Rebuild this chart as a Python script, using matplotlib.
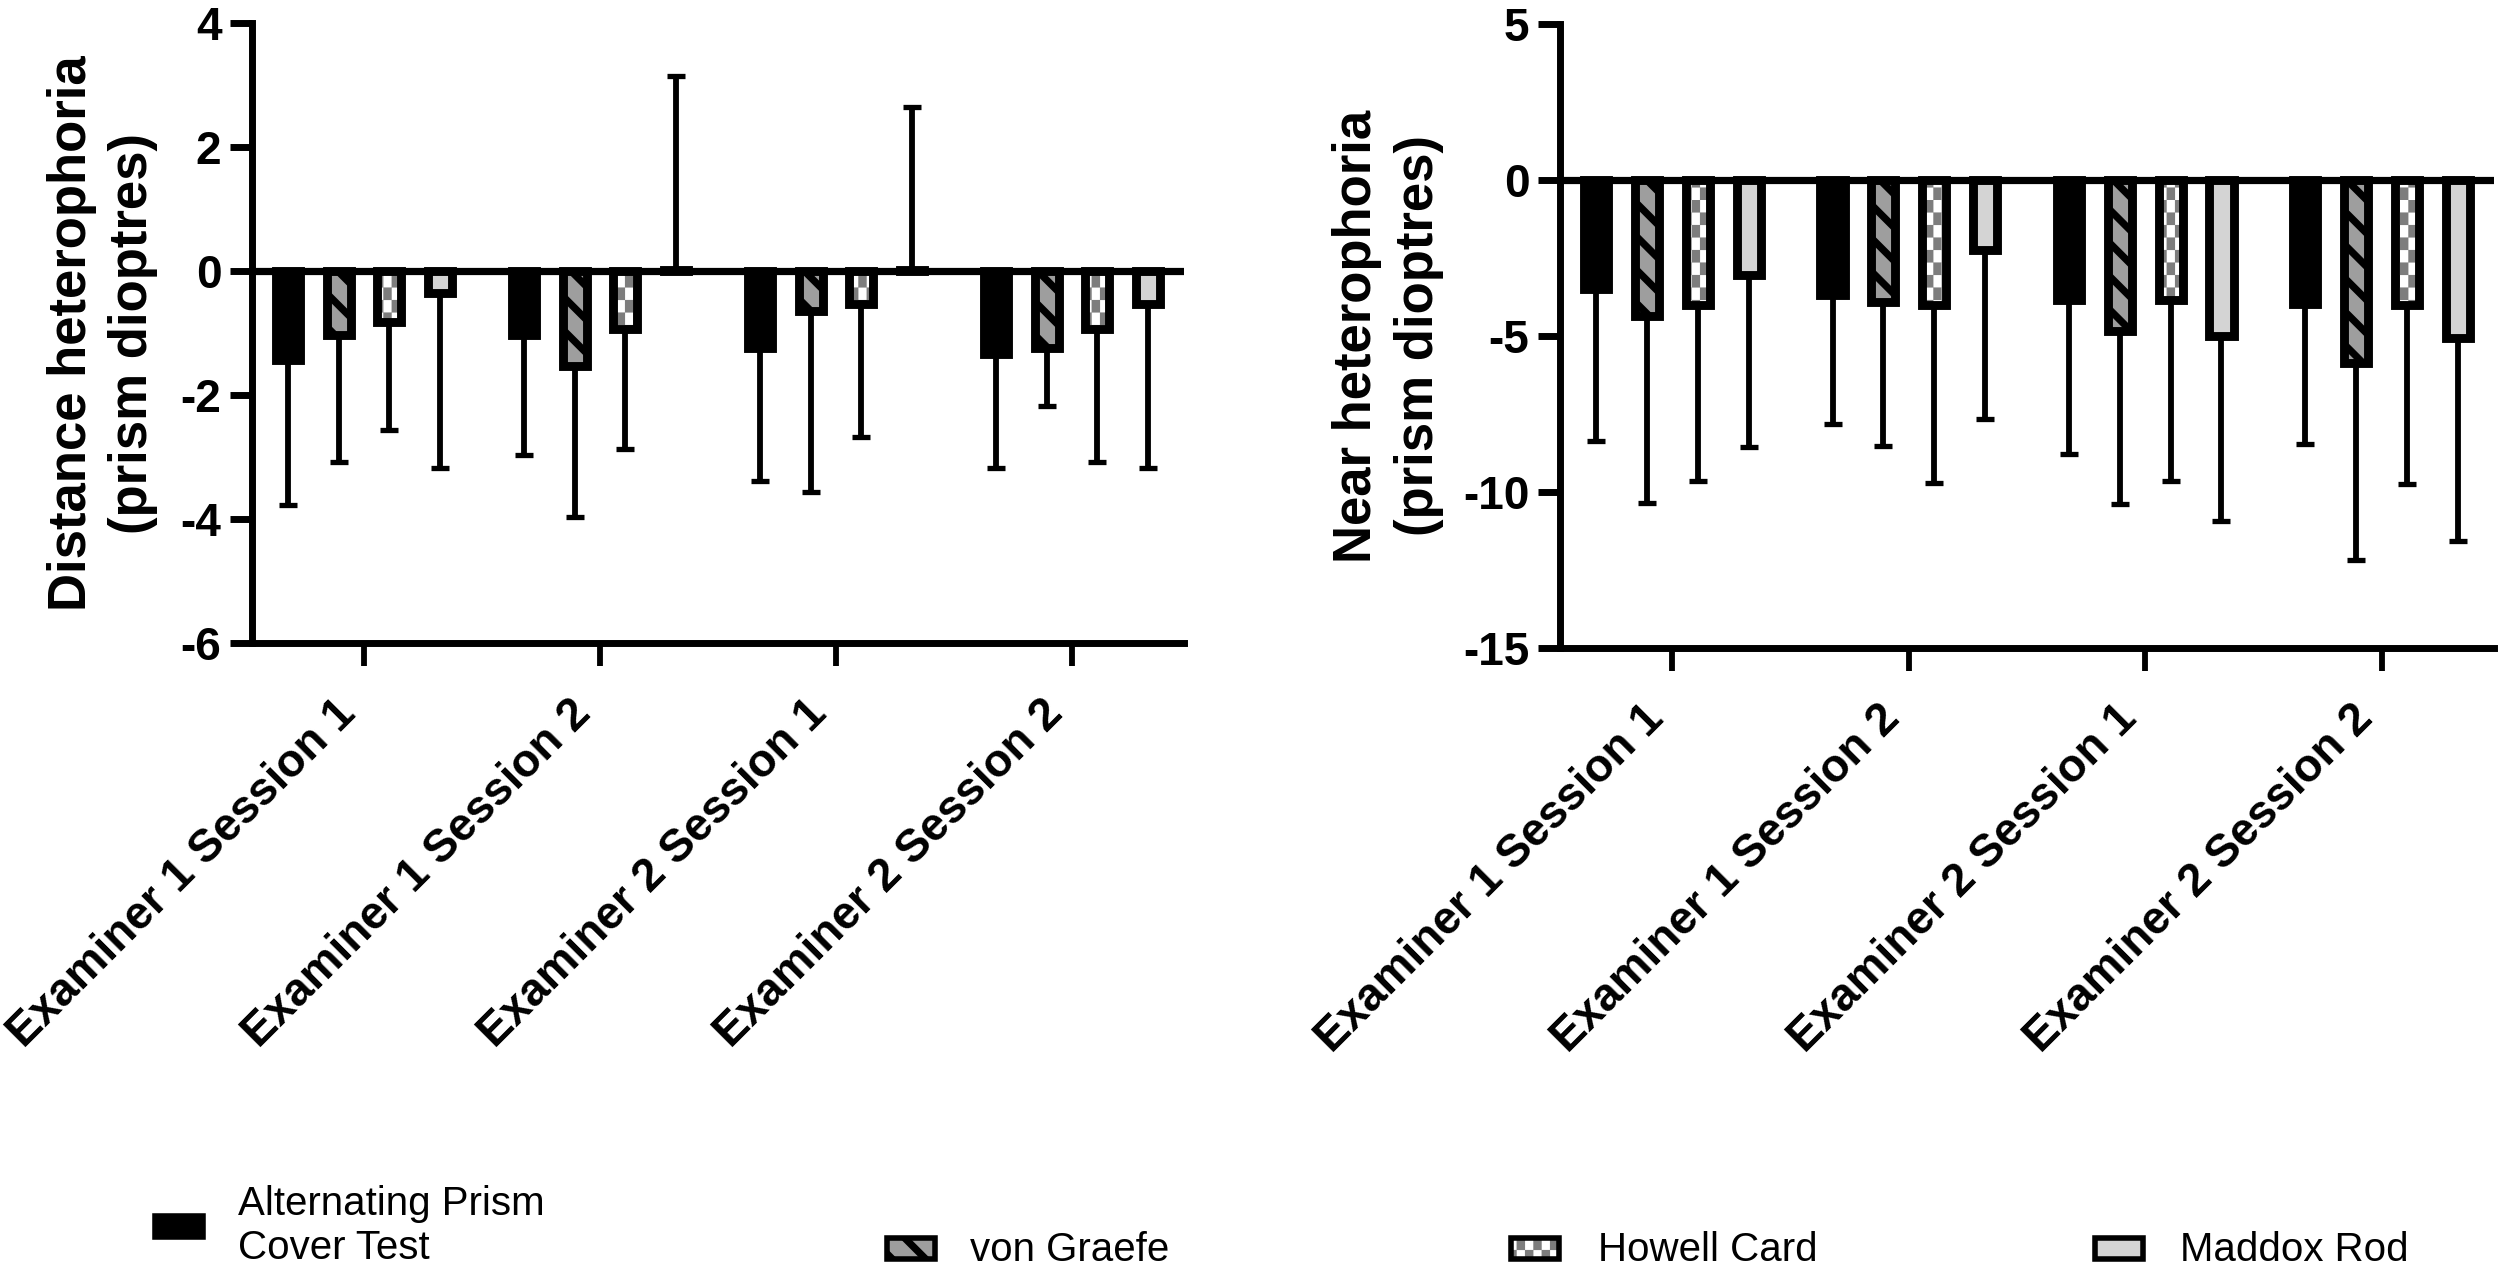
import warnings

import matplotlib

matplotlib.use("Agg")
import matplotlib.hatch as mhatch
import matplotlib.pyplot as plt
import numpy as np
from matplotlib.patches import Rectangle
from matplotlib.path import Path
from matplotlib.transforms import ScaledTranslation

warnings.filterwarnings("ignore", message=".*hatch must consist.*")

# ---- data (mean, SD) per method, one value per examiner/session ----
sessions = [
    "Examiner 1 Session 1",
    "Examiner 1 Session 2",
    "Examiner 2 Session 1",
    "Examiner 2 Session 2",
]
methods = ["Alternating Prism\nCover Test", "von Graefe", "Howell Card", "Maddox Rod"]

distance_apct = [-1.44, -1.04, -1.24, -1.34]
distance_apct_sd = [2.33, 1.93, 2.14, 1.84]
distance_von_graefe = [-1.04, -1.54, -0.64, -1.24]
distance_von_graefe_sd = [2.04, 2.42, 2.93, 0.93]
distance_howell = [-0.83, -0.93, -0.53, -0.93]
distance_howell_sd = [1.74, 1.94, 2.14, 2.15]
distance_maddox = [-0.35, 0.02, 0.02, -0.53]
distance_maddox_sd = [2.83, 3.13, 2.62, 2.65]

near_apct = [-3.50, -3.70, -3.85, -3.96]
near_apct_sd = [4.85, 4.12, 4.94, 4.50]
near_von_graefe = [-4.36, -3.90, -4.85, -5.85]
near_von_graefe_sd = [6.00, 4.64, 5.55, 6.34]
near_howell = [-4.00, -4.00, -3.85, -4.00]
near_howell_sd = [5.64, 5.71, 5.79, 5.73]
near_maddox = [-3.06, -2.25, -4.99, -5.06]
near_maddox_sd = [5.51, 5.40, 5.93, 6.52]

distance_ticks = [-6, -4, -2, 0, 2, 4]
near_ticks = [-15, -10, -5, 0, 5]

# ---- style ----
FONT = "Liberation Sans"
EDGE = 3.2
BAR_WIDTH = 0.102
BAR_STEP = 0.215
GREY_STRIPE = "#9e9e9e"
GREY_CHECK = "#7d7d7d"
GREY_LIGHT = "#d4d4d4"
STRIPES = "\\\\"

plt.rcParams["font.family"] = [FONT, "DejaVu Sans"]
plt.rcParams["axes.unicode_minus"] = False
plt.rcParams["hatch.linewidth"] = 2.6


class CheckerHatch(mhatch.HatchPatternBase):
    """Filled checkerboard of tall cells, selected with the letter 'c'."""

    def __init__(self, hatch, density):
        count = hatch.count("c")
        self.nx = count * 24
        self.ny = count * 16
        self.num_vertices = (self.nx * self.ny // 2) * 5

    def set_vertices_and_codes(self, vertices, codes):
        dx, dy = 1.0 / self.nx, 1.0 / self.ny
        cell = np.array([[0, 0], [dx, 0], [dx, dy], [0, dy], [0, 0]])
        parts = [cell + [i * dx, j * dy]
                 for i in range(self.nx) for j in range(self.ny) if (i + j) % 2 == 0]
        vertices[:] = np.concatenate(parts)
        codes[:] = np.tile([Path.MOVETO, Path.LINETO, Path.LINETO,
                            Path.LINETO, Path.CLOSEPOLY], len(parts))


mhatch._hatch_types.append(CheckerHatch)


def draw_method_bars(ax, index, pos, mean):
    if index == 0:
        return ax.bar(pos, mean, BAR_WIDTH, color="black", edgecolor="black",
                      linewidth=EDGE, zorder=2)
    if index == 1:
        return ax.bar(pos, mean, BAR_WIDTH, color=GREY_STRIPE, edgecolor="black",
                      hatch=STRIPES, linewidth=EDGE, zorder=2)
    if index == 2:
        with plt.rc_context({"hatch.linewidth": 0.05}):
            ax.bar(pos, mean, BAR_WIDTH, color="white", edgecolor=GREY_CHECK,
                   hatch="c", linewidth=0, zorder=2)
        return ax.bar(pos, mean, BAR_WIDTH, facecolor="none", edgecolor="black",
                      linewidth=EDGE, zorder=2)
    return ax.bar(pos, mean, BAR_WIDTH, color=GREY_LIGHT, edgecolor="black",
                  linewidth=EDGE, zorder=2)


def draw_panel(ax, means, sds, ylim, yticks, ylabel, labelpad):
    x = np.arange(len(sessions))
    for i, (mean, sd) in enumerate(zip(means, sds)):
        mean = np.asarray(mean)
        sd = np.asarray(sd)
        pos = x + (i - 1.5) * BAR_STEP
        draw_method_bars(ax, i, pos, mean)
        # error bars only point away from zero
        lower = np.where(mean < 0, sd, 0)
        upper = np.where(mean >= 0, sd, 0)
        ax.errorbar(pos, mean, yerr=[lower, upper], fmt="none", ecolor="black",
                    elinewidth=2.1, capsize=3.4, capthick=1.9, zorder=3)

    ax.axhline(0, color="black", linewidth=2.6, zorder=4)
    ax.set_xlim(-0.475, len(sessions) - 0.525)
    ax.set_ylim(*ylim)
    ax.set_yticks(yticks)
    ax.set_xticks(x)
    ax.set_xticklabels(sessions, rotation=45, ha="right", va="top",
                       fontsize=16.5, fontweight="bold")
    shift = ScaledTranslation(6 / 72, 0, ax.figure.dpi_scale_trans)
    for label in ax.get_xticklabels():
        label.set_transform(label.get_transform() + shift)
    for label in ax.get_yticklabels():
        label.set_fontsize(16.5)
        label.set_fontweight("bold")
    ax.set_ylabel(ylabel, fontsize=19, fontweight="bold", linespacing=1.3,
                  labelpad=labelpad)

    for side in ("top", "right"):
        ax.spines[side].set_visible(False)
    for side in ("left", "bottom"):
        ax.spines[side].set_linewidth(2.5)
    ax.tick_params(axis="y", length=8, width=2.5, pad=3)
    ax.tick_params(axis="x", length=8.3, width=2.1, pad=9)


W, H = 2508, 1272
fig = plt.figure(figsize=(W / 200, H / 200), dpi=200)


def fx(px):
    return px / W


def fy(py):
    return 1 - py / H


ax_dist = fig.add_axes([fx(252), fy(643), fx(1184 - 252), (643 - 23) / H])
ax_near = fig.add_axes([fx(1560), fy(648), fx(2494 - 1560), (648 - 24) / H])

draw_panel(
    ax_dist,
    [distance_apct, distance_von_graefe, distance_howell, distance_maddox],
    [distance_apct_sd, distance_von_graefe_sd, distance_howell_sd, distance_maddox_sd],
    (-6, 4), distance_ticks,
    "Distance heterophoria\n(prism dioptres)", 8,
)
draw_panel(
    ax_near,
    [near_apct, near_von_graefe, near_howell, near_maddox],
    [near_apct_sd, near_von_graefe_sd, near_howell_sd, near_maddox_sd],
    (-15, 5), near_ticks,
    "Near heterophoria\n(prism dioptres)", 7,
)

# ---- legend along the bottom (placed by hand, like the original layout) ----
legend_x = [152, 884, 1508, 2092]
legend_text_x = [238, 970, 1598, 2180]
legend_top = [1213, 1235, 1235, 1235]
legend_faces = ["black", GREY_STRIPE, "white", GREY_LIGHT]
legend_hatches = [None, STRIPES, "c", None]
hw, hh = 48, 21
for i, label in enumerate(methods):
    x0, y0 = legend_x[i] + 3, legend_top[i] + 3 + hh
    box = dict(xy=(fx(x0), fy(y0)), width=hw / W, height=hh / H,
               transform=fig.transFigure)
    if i == 2:
        with plt.rc_context({"hatch.linewidth": 0.05}):
            fig.add_artist(Rectangle(**box, facecolor="white", edgecolor=GREY_CHECK,
                                     hatch="c", linewidth=0))
        fig.add_artist(Rectangle(**box, facecolor="none", edgecolor="black",
                                 linewidth=2))
    else:
        fig.add_artist(Rectangle(**box, facecolor=legend_faces[i], edgecolor="black",
                                 hatch=legend_hatches[i], linewidth=2))
    if "\n" in label:
        fig.text(fx(legend_text_x[i]), fy(1226), label, fontsize=14.5,
                 ha="left", va="center", linespacing=1.2)
    else:
        fig.text(fx(legend_text_x[i]), fy(1261), label, fontsize=14.5,
                 ha="left", va="baseline")

fig.savefig("out.png", dpi=200)
plt.close(fig)
